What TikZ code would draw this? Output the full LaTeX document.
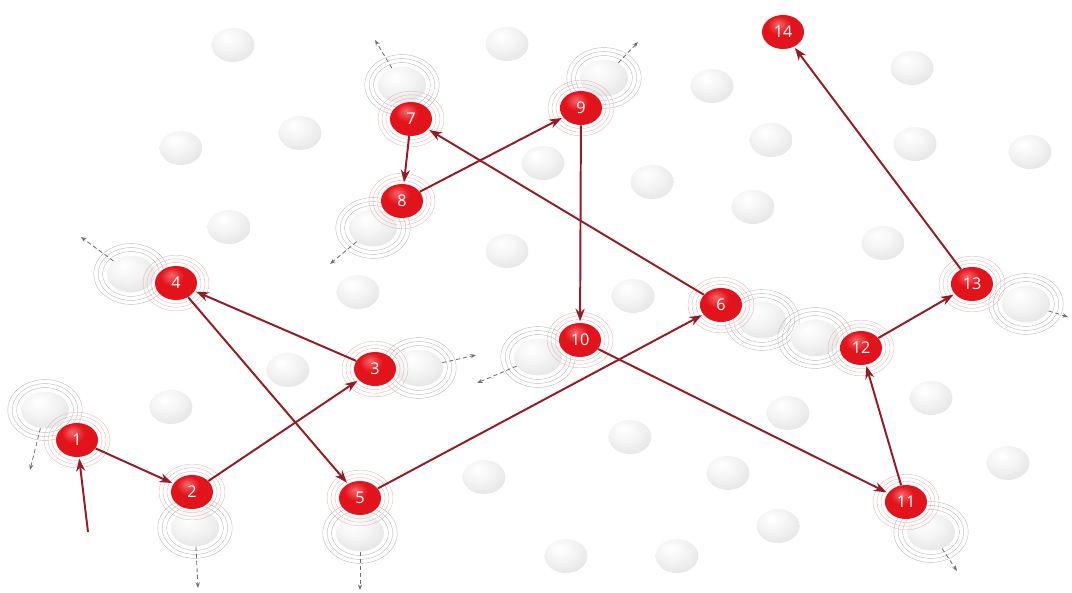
\documentclass[tikz,border=0pt]{standalone}
\usepackage{fontspec}
\setsansfont{Open Sans}
\usetikzlibrary{shapes.geometric, arrows.meta}
\definecolor{ballRed}{HTML}{E2131B}
\definecolor{ballRedHi}{HTML}{F4686B}
\definecolor{ballRedLo}{HTML}{A50C12}
\definecolor{hopRed}{HTML}{941C24}
\definecolor{ringGrey}{HTML}{BDBDBD}
\definecolor{ringRed}{HTML}{E3BDBD}
\definecolor{driftGrey}{HTML}{707070}
\pgfdeclareradialshading{redshade}{\pgfpoint{-6bp}{12bp}}{color(0bp)=(ballRedHi); color(14bp)=(ballRed); color(40bp)=(ballRed); color(56bp)=(ballRedLo); color(70bp)=(ballRedLo)}
\pgfdeclareradialshading{greyshade}{\pgfpoint{-8bp}{12bp}}{color(0bp)=(white); color(16bp)=(black!4); color(36bp)=(black!11); color(50bp)=(black!21); color(66bp)=(black!32)}
\tikzset{
  redball/.style={ellipse, shading=redshade, minimum width=1.05cm, minimum height=0.85cm,
    inner sep=0pt, text=white, font=\sffamily\fontsize{11.5}{13}\selectfont},
  greyball/.style={ellipse, shading=greyshade, minimum width=1.07cm, minimum height=0.85cm, inner sep=0pt},
  pairball/.style={greyball, minimum width=1.2cm, minimum height=0.92cm},
  ring/.style={draw=ringGrey, line width=0.3pt},
  redring/.style={draw=ringRed, line width=0.3pt},
  hop/.style={-{Stealth[length=9pt, width=6.5pt]}, line width=1.4pt, hopRed, shorten >=1pt},
  drift/.style={-{Stealth[length=4pt, width=3pt]}, densely dashed, line width=0.6pt, driftGrey},
}
\begin{document}
\begin{tikzpicture}[x=0.025cm, y=-0.025cm]
  \useasboundingbox (0,0) rectangle (1072,592);
  % disturbed neighbours, with their rings
  \foreach \n/\x/\y in {1/45/410, 2/195/528, 3/419/368, 4/131/274, 5/360/533, 6/762/320, 7/402/85,
      8/373/228, 9/604/78, 10/538/357, 11/931/532, 12/815/338, 13/1026/304} {
    \node[pairball] (g\n) at (\x,\y) {};
    \foreach \k in {1,2,3}
      \draw[ring] (g\n.center) ellipse [x radius={0.6cm+\k*0.11cm}, y radius={0.46cm+\k*0.1cm}];
  }
  % idle balls
  \foreach \x/\y [count=\i] in {233/45, 507/44, 181/148, 300/133, 712/86, 912/68, 543/163, 652/182,
      771/140, 915/144, 1030/152, 229/227, 753/207, 507/251, 883/243, 358/292, 633/296, 288/370,
      171/407, 788/413, 931/398, 630/437, 484/477, 728/473, 1008/463, 778/526, 566/556, 677/556}
    \node[greyball] (b\i) at (\x,\y) {};
  % visited balls
  \foreach \n/\x/\y in {1/77/440, 2/192/492, 3/375/369, 4/176/283, 5/360/498, 6/721/305, 7/411/119,
      8/402/201, 9/581/108, 10/580/340, 11/906/502, 12/861/348, 13/972/284} {
    \foreach \k in {1,2,3}
      \draw[redring] (\x,\y) ellipse [x radius={0.525cm+\k*0.1cm}, y radius={0.425cm+\k*0.09cm}];
    \node[redball] (r\n) at (\x,\y) {\n};
  }
  \node[redball] (r14) at (783,32) {14};
  % knocked-on directions
  \foreach \n/\x/\y in {1/30/470, 2/198/588, 3/476/355, 4/81/237, 5/360/590, 7/375/40, 8/330/264,
      9/638/42, 10/477/383, 11/957/571, 13/1068/317} {
    \coordinate (e\n) at (\x,\y);
    \draw[drift] (g\n) -- (e\n);
  }
  % the path
  \coordinate (start) at (88,532);
  \draw[hop] (start) -- (r1);
  \foreach \a/\b in {1/2, 2/3, 3/4, 4/5, 5/6, 6/7, 7/8, 8/9, 9/10, 10/11, 11/12, 12/13, 13/14}
    \draw[hop] (r\a) -- (r\b);
\end{tikzpicture}
\end{document}
